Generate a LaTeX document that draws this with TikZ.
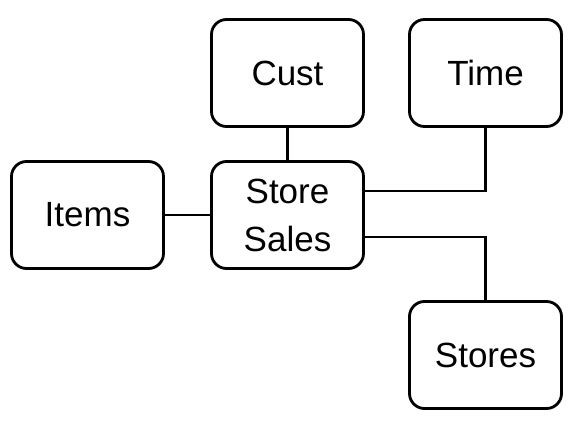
\documentclass[tikz,border=0pt]{standalone}
\usepackage{fontspec}
\setmainfont{Liberation Sans}
\usepackage{tikz}
\usetikzlibrary{positioning}

\begin{document}
\begin{tikzpicture}[x=1pt, y=-1pt, line width=2.8pt,
  every node/.style = {shape=rectangle, rounded corners=15pt, draw, align=center,
    minimum width=152pt, minimum height=107pt, inner sep=0pt,
    font=\fontsize{35}{48}\selectfont}]
  \useasboundingbox (0,0) rectangle (579,421);
  \node (sales) at (287.5,215) {Store\\Sales};
  \node (cust) at (287.5,73) {Cust};
  \node (time) at (485.5,73) {Time};
  \node (items) at (87.5,215) {Items};
  \node (stores) at (485.5,355) {Stores};
  \draw (cust) -- (sales);
  \draw (items) -- (sales);
  \draw ([yshift=24pt]sales.east) -| (time.south);
  \draw ([yshift=-22pt]sales.east) -| (stores.north);
\end{tikzpicture}
\end{document}
